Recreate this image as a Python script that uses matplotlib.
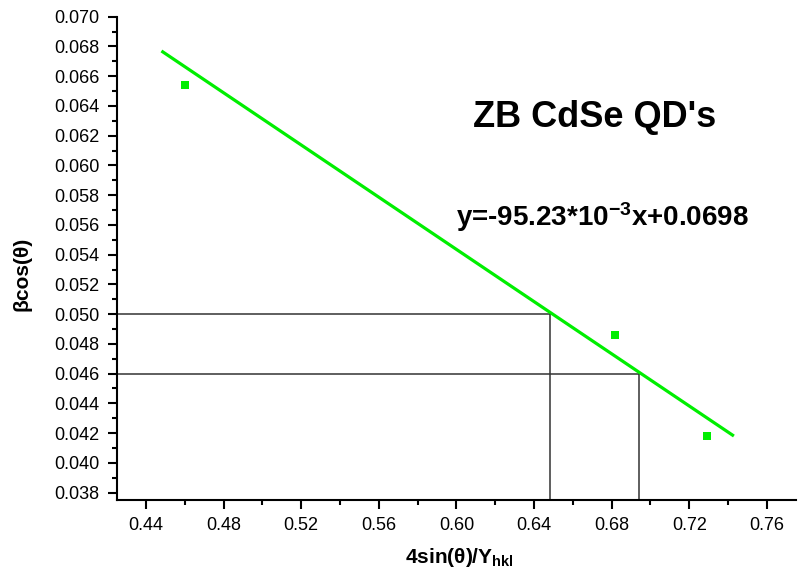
import numpy as np
from matplotlib import pyplot as plt
from matplotlib.ticker import MultipleLocator, FormatStrFormatter

plt.rcParams['font.family'] = ['Liberation Sans', 'DejaVu Sans']
plt.rcParams['mathtext.fontset'] = 'custom'
plt.rcParams['mathtext.rm'] = 'Liberation Sans:bold'
plt.rcParams['mathtext.bf'] = 'Liberation Sans:bold'
plt.rcParams['mathtext.it'] = 'Liberation Sans:bold'

# measured points
x_pts = [0.460, 0.6818, 0.7292]
y_pts = [0.0654, 0.0486, 0.0418]

# fitted line as drawn
fit_x = [0.448, 0.743]
fit_y = [0.0677, 0.0418]

# guide lines (y level, x where it meets the fit)
guide_y = [0.050, 0.046]
guide_x = [0.6483, 0.6941]

xlim = (0.425, 0.775)
ylim = (0.0375, 0.070)

fig = plt.figure(figsize=(8, 5.78), dpi=100)
ax = fig.add_axes([0.146, 0.135, 0.849, 0.836])

for gx, gy in zip(guide_x, guide_y):
    ax.plot([xlim[0], gx], [gy, gy], color='#333333', lw=1.1)
    ax.plot([gx, gx], [ylim[0], gy], color='#333333', lw=1.1)

ax.plot(fit_x, fit_y, color='#00ee00', lw=2.3, solid_capstyle='butt')
ax.plot(x_pts, y_pts, 's', color='#00ee00', markersize=6, markeredgewidth=0)

ax.set_xlim(*xlim)
ax.set_ylim(*ylim)
ax.xaxis.set_major_locator(MultipleLocator(0.04))
ax.xaxis.set_minor_locator(MultipleLocator(0.02))
ax.yaxis.set_major_locator(MultipleLocator(0.002))
ax.yaxis.set_minor_locator(MultipleLocator(0.001))
ax.xaxis.set_major_formatter(FormatStrFormatter('%.2f'))
ax.yaxis.set_major_formatter(FormatStrFormatter('%.3f'))

ax.spines['top'].set_visible(False)
ax.spines['right'].set_visible(False)
ax.spines['left'].set_linewidth(1.5)
ax.spines['bottom'].set_linewidth(1.5)
ax.tick_params(which='major', direction='out', length=6.5, width=1.5,
               labelsize=13, pad=6)
ax.tick_params(which='minor', direction='out', length=3.5, width=1.5)

ax.set_xlabel(r'4sin(θ)/Y$_{\mathrm{hkl}}$', fontsize=15, fontweight='bold')
ax.set_ylabel('βcos(θ)', fontsize=15, fontweight='bold')
ax.xaxis.set_label_coords(0.505, -0.095)
ax.yaxis.set_label_coords(-0.125, 0.468)

ax.text(0.671, 0.0632, "ZB CdSe QD's", fontsize=26, fontweight='bold',
        ha='center', va='center')
ax.text(0.675, 0.0565, r'y=-95.23*10$^{-3}$x+0.0698', fontsize=20,
        fontweight='bold', ha='center', va='center')

plt.savefig('out.png', dpi=100)
